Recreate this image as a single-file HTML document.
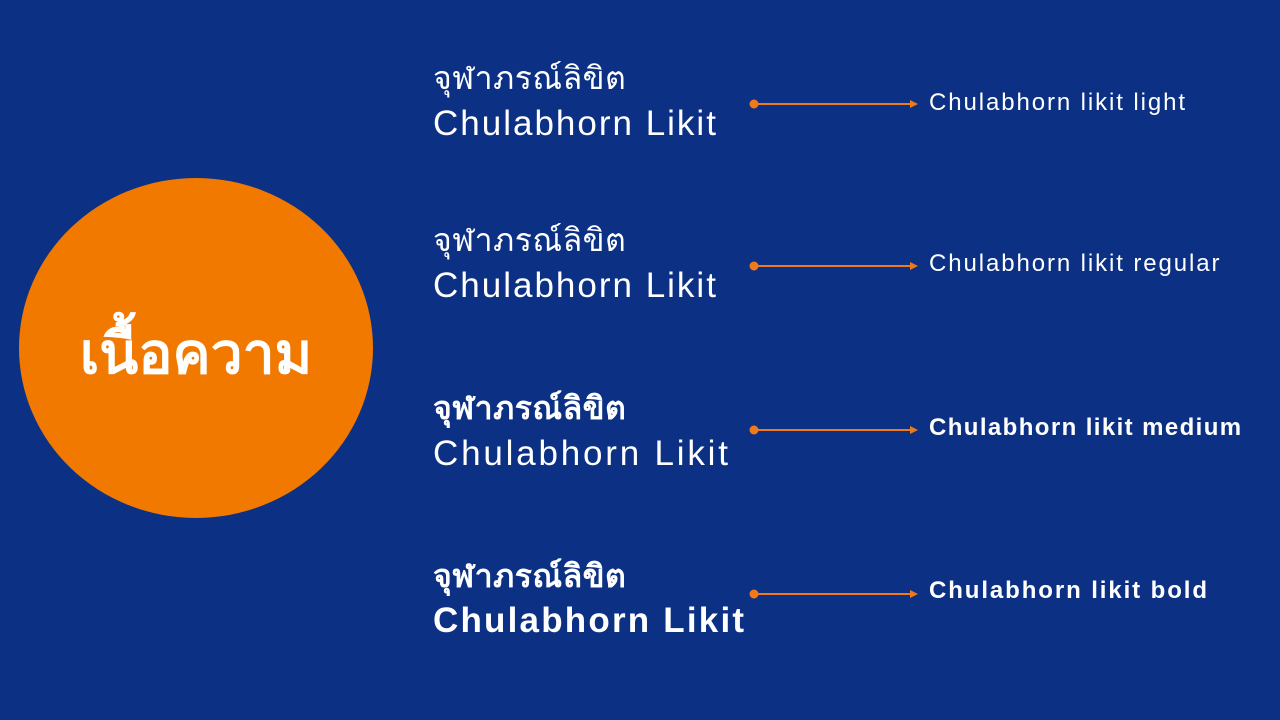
<!DOCTYPE html>
<html><head><meta charset="utf-8"><style>
html,body{margin:0;padding:0}
body{width:1280px;height:720px;background:#0c3084;position:relative;overflow:hidden;font-family:"Liberation Sans","Noto Sans CJK SC",sans-serif;color:#fff}
.t{position:absolute;left:433px;white-space:nowrap}
.th{font-size:32px;line-height:32px;letter-spacing:0.5px}
.en{font-size:35px;line-height:36px;letter-spacing:2px}
.lab{position:absolute;left:929px;font-size:24px;line-height:28px;white-space:nowrap;letter-spacing:1.9px}
</style></head><body>
<svg width="1280" height="720" style="position:absolute;left:0;top:0">
<ellipse cx="196" cy="348" rx="177" ry="170" fill="#f27900"/>
<text x="196" y="373" text-anchor="middle" font-family="Liberation Sans, Noto Sans CJK SC, sans-serif" font-size="57" font-weight="bold" fill="#fff">เนื้อความ</text>
<g stroke="#f07a1a" stroke-width="2" fill="#f07a1a">
<circle cx="754" cy="104" r="3.5"/><line x1="754" y1="104" x2="912" y2="104"/><path d="M910 100 L918 104 L910 108Z" stroke="none"/>
<circle cx="754" cy="266" r="3.5"/><line x1="754" y1="266" x2="912" y2="266"/><path d="M910 262 L918 266 L910 270Z" stroke="none"/>
<circle cx="754" cy="430" r="3.5"/><line x1="754" y1="430" x2="912" y2="430"/><path d="M910 426 L918 430 L910 434Z" stroke="none"/>
<circle cx="754" cy="594" r="3.5"/><line x1="754" y1="594" x2="912" y2="594"/><path d="M910 590 L918 594 L910 598Z" stroke="none"/>
</g></svg>
<div class="t th" style="top:62px">จุฬาภรณ์ลิขิต</div>
<div class="t en" style="top:106px">Chulabhorn Likit</div>
<div class="t th" style="top:224px">จุฬาภรณ์ลิขิต</div>
<div class="t en" style="top:268px">Chulabhorn Likit</div>
<div class="t th" style="top:392px;font-weight:bold">จุฬาภรณ์ลิขิต</div>
<div class="t en" style="top:436px;letter-spacing:2.8px">Chulabhorn Likit</div>
<div class="t th" style="top:560px;font-weight:bold">จุฬาภรณ์ลิขิต</div>
<div class="t en" style="top:603px;font-weight:bold;letter-spacing:2.2px">Chulabhorn Likit</div>
<div class="lab" style="top:89px">Chulabhorn likit light</div>
<div class="lab" style="top:250px">Chulabhorn likit regular</div>
<div class="lab" style="top:414px;font-weight:bold;letter-spacing:1.4px">Chulabhorn likit medium</div>
<div class="lab" style="top:577px;font-weight:bold;letter-spacing:1.9px">Chulabhorn likit bold</div>
</body></html>
